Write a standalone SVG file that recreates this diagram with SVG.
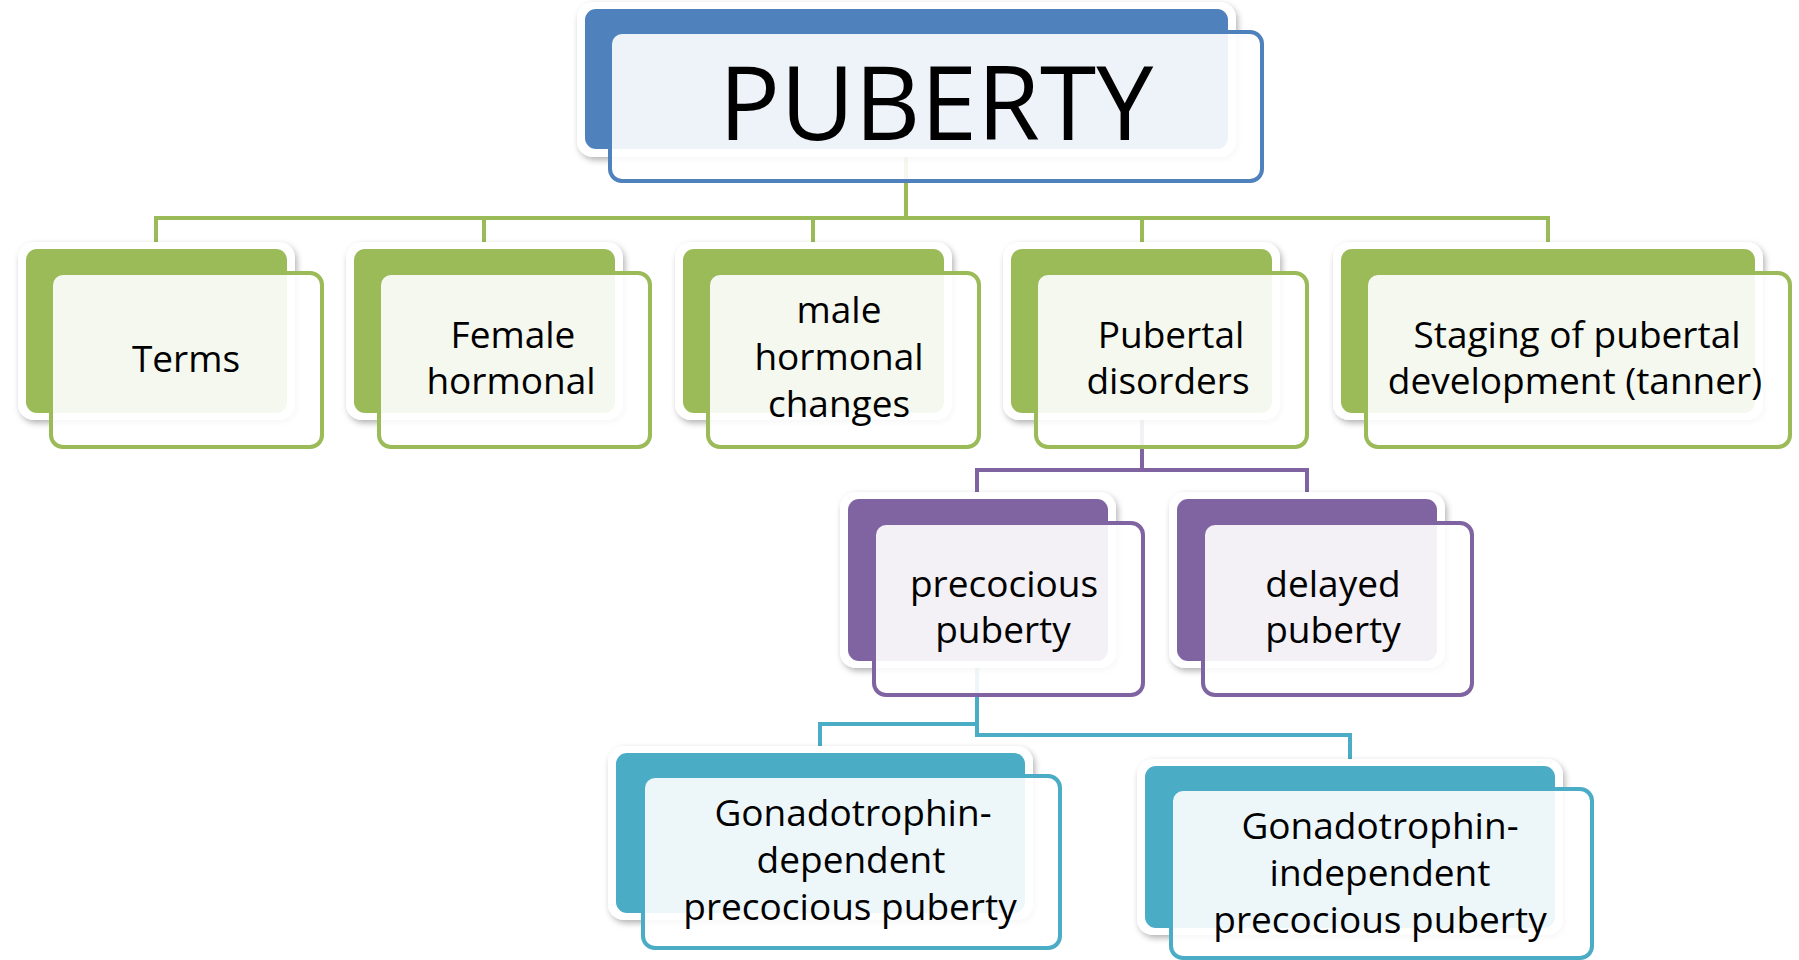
<svg xmlns="http://www.w3.org/2000/svg" width="1799" height="960" viewBox="0 0 1799 960">
<defs>
<filter id="sh" x="-10%" y="-10%" width="120%" height="130%">
<feDropShadow dx="2" dy="3" stdDeviation="3" flood-color="#000" flood-opacity="0.3"/>
</filter>
</defs>
<style>
.halo{fill:#fff;filter:url(#sh)}
.front{fill:#fff;fill-opacity:0.9;stroke-width:4}
.t{font-family:"Open Sans","Noto Sans",sans-serif;font-size:37px;fill:#000;text-anchor:middle}
.big{font-size:102px}
.bl .back{fill:#4F81BD}.bl .front{stroke:#4F81BD}
.gr .back{fill:#9BBB59}.gr .front{stroke:#9BBB59}
.pu .back{fill:#8064A2}.pu .front{stroke:#8064A2}
.te .back{fill:#4BACC6}.te .front{stroke:#4BACC6}
.c{fill:none;stroke-width:4}
</style>
<rect width="1799" height="960" fill="#fff"/>
<g id="connectors">
<path class="c" stroke="#9BBB59" d="M906 150V218M156 244V218H1548V244M484 218V244M813 218V244M1142 218V244"/>
<path class="c" stroke="#8064A2" d="M1142 413V470M977 495V470H1307V495"/>
<path class="c" stroke="#4BACC6" d="M977 661V735H1350V762M977 724H820V750"/>
</g>
<g id="puberty" class="bl">
<rect class="halo" x="577" y="2" width="659" height="155" rx="16"/>
<rect class="back" x="585" y="9" width="643" height="140" rx="11"/>
<rect class="front" x="610" y="32" width="652" height="149" rx="12"/>
<text class="t big" x="936" y="140">PUBERTY</text>
</g>
<g id="terms" class="gr">
<rect class="halo" x="18" y="242" width="277" height="178" rx="16"/>
<rect class="back" x="26" y="249" width="261" height="164" rx="11"/>
<rect class="front" x="51" y="273" width="271" height="174" rx="12"/>
<text class="t" x="186" y="372">Terms</text>
</g>
<g id="female" class="gr">
<rect class="halo" x="346" y="242" width="277" height="178" rx="16"/>
<rect class="back" x="354" y="249" width="261" height="164" rx="11"/>
<rect class="front" x="379" y="273" width="271" height="174" rx="12"/>
<text class="t" x="513" y="348">Female</text>
<text class="t" x="511" y="394">hormonal</text>
</g>
<g id="male" class="gr">
<rect class="halo" x="675" y="242" width="277" height="178" rx="16"/>
<rect class="back" x="683" y="249" width="261" height="164" rx="11"/>
<rect class="front" x="708" y="273" width="271" height="174" rx="12"/>
<text class="t" x="839" y="323">male</text>
<text class="t" x="839" y="370">hormonal</text>
<text class="t" x="839" y="417">changes</text>
</g>
<g id="disorders" class="gr">
<rect class="halo" x="1003" y="242" width="277" height="178" rx="16"/>
<rect class="back" x="1011" y="249" width="261" height="164" rx="11"/>
<rect class="front" x="1036" y="273" width="271" height="174" rx="12"/>
<text class="t" x="1171" y="348">Pubertal</text>
<text class="t" x="1168" y="394">disorders</text>
</g>
<g id="staging" class="gr">
<rect class="halo" x="1333" y="242" width="430" height="178" rx="16"/>
<rect class="back" x="1341" y="249" width="414" height="164" rx="11"/>
<rect class="front" x="1366" y="273" width="424" height="174" rx="12"/>
<text class="t" x="1577" y="348">Staging of pubertal</text>
<text class="t" x="1575" y="394">development (tanner)</text>
</g>
<g id="precocious" class="pu">
<rect class="halo" x="840" y="492" width="276" height="176" rx="16"/>
<rect class="back" x="848" y="499" width="260" height="162" rx="11"/>
<rect class="front" x="874" y="523" width="269" height="172" rx="12"/>
<text class="t" x="1004" y="597">precocious</text>
<text class="t" x="1003" y="643">puberty</text>
</g>
<g id="delayed" class="pu">
<rect class="halo" x="1169" y="492" width="276" height="176" rx="16"/>
<rect class="back" x="1177" y="499" width="260" height="162" rx="11"/>
<rect class="front" x="1203" y="523" width="269" height="172" rx="12"/>
<text class="t" x="1333" y="597">delayed</text>
<text class="t" x="1333" y="643">puberty</text>
</g>
<g id="gdpp" class="te">
<rect class="halo" x="608" y="746" width="425" height="174" rx="16"/>
<rect class="back" x="616" y="753" width="409" height="160" rx="11"/>
<rect class="front" x="643" y="776" width="417" height="172" rx="12"/>
<text class="t" x="853" y="826">Gonadotrophin-</text>
<text class="t" x="851" y="873">dependent</text>
<text class="t" x="850" y="920">precocious puberty</text>
</g>
<g id="gipp" class="te">
<rect class="halo" x="1137" y="759" width="426" height="176" rx="16"/>
<rect class="back" x="1145" y="766" width="410" height="162" rx="11"/>
<rect class="front" x="1171" y="789" width="421" height="169" rx="12"/>
<text class="t" x="1380" y="839">Gonadotrophin-</text>
<text class="t" x="1380" y="886">independent</text>
<text class="t" x="1380" y="933">precocious puberty</text>
</g>
</svg>
